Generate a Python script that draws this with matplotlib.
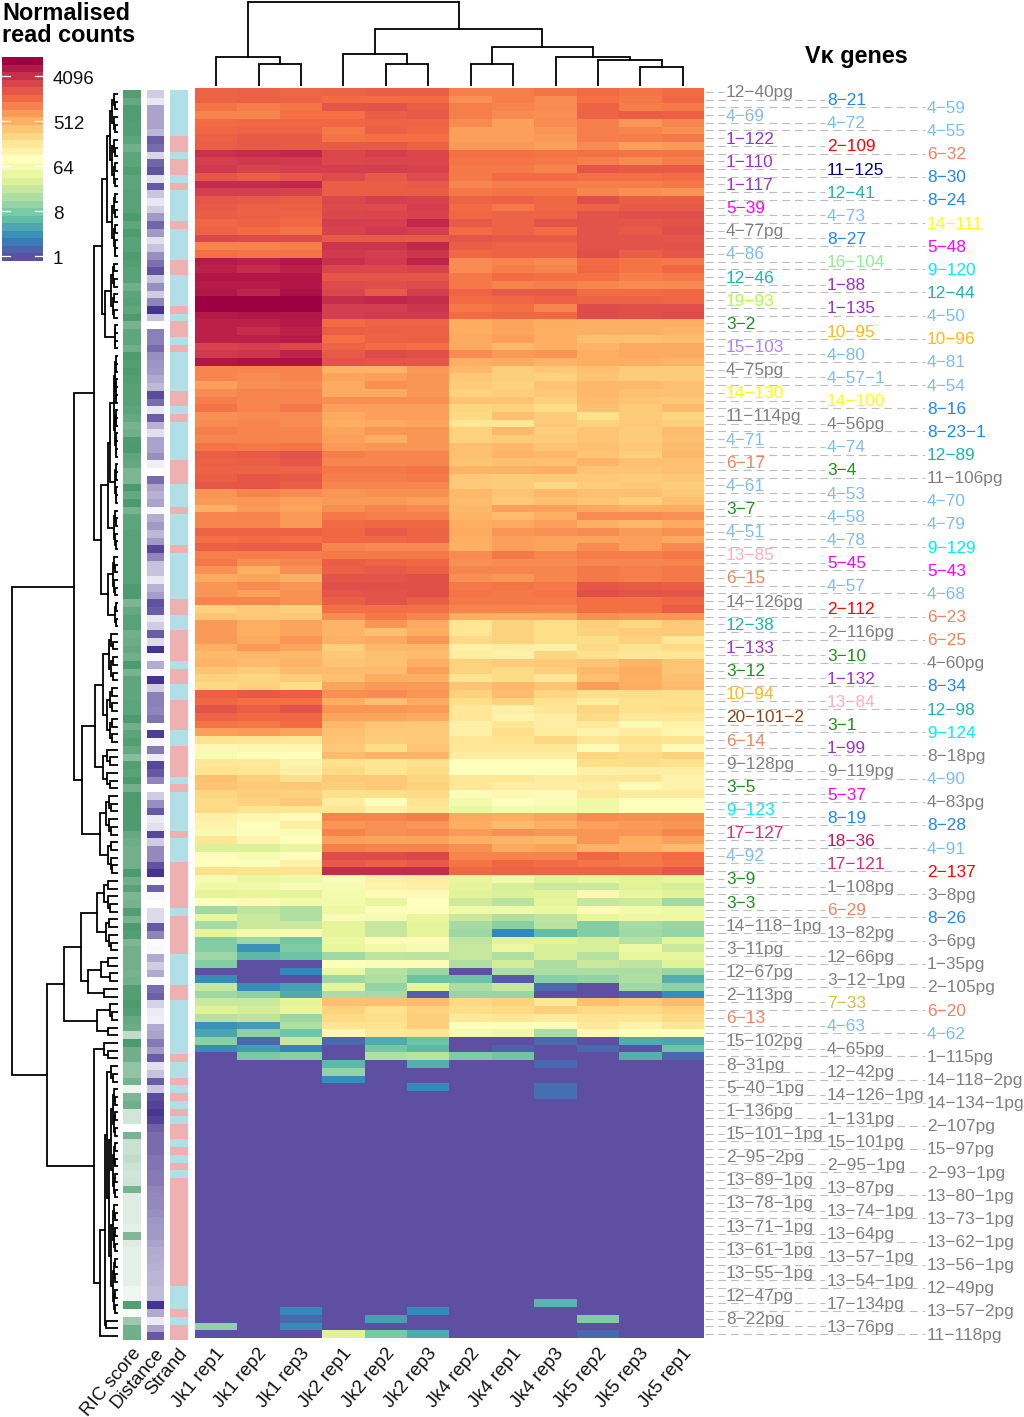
import numpy as np
import matplotlib
matplotlib.use('Agg')
from matplotlib import pyplot as plt
from matplotlib.colors import LinearSegmentedColormap, ListedColormap

plt.rcParams['font.family'] = ['Liberation Sans', 'DejaVu Sans']

W, H = 1024, 1417

samples = ['Jk1 rep1', 'Jk1 rep2', 'Jk1 rep3', 'Jk2 rep1', 'Jk2 rep2', 'Jk2 rep3',
           'Jk4 rep2', 'Jk4 rep1', 'Jk4 rep3', 'Jk5 rep2', 'Jk5 rep3', 'Jk5 rep1']
annot_names = ['RIC score', 'Distance', 'Strand']

# log2 read counts
cluster_a = [
    [10.8, 10.9, 10.7, 10.8, 11.0, 11.0, 10.2, 10.2, 10.4, 10.6, 10.4, 10.6],
    [10.8, 10.9, 10.8, 10.6, 10.6, 10.6, 9.8, 10.2, 9.9, 10.5, 10.3, 10.7],
    [10.4, 10.2, 10.4, 11.2, 11.3, 11.0, 10.2, 10.1, 9.9, 10.8, 10.2, 10.3],
    [10.1, 10.0, 10.5, 10.5, 11.0, 11.1, 10.2, 9.9, 9.8, 10.8, 11.0, 10.9],
    [10.6, 10.7, 10.7, 10.7, 10.8, 10.8, 9.9, 9.5, 9.9, 10.2, 9.7, 10.0],
    [10.7, 10.8, 10.8, 10.3, 10.9, 10.7, 9.5, 9.5, 9.7, 10.2, 10.0, 9.8],
    [10.9, 11.1, 11.1, 10.4, 10.5, 10.5, 9.5, 9.5, 9.6, 10.2, 10.2, 10.3],
    [11.0, 11.1, 11.1, 11.1, 11.1, 10.9, 9.6, 9.6, 9.5, 9.9, 9.5, 9.6],
    [12.2, 12.3, 12.4, 11.6, 11.9, 11.7, 10.5, 10.5, 10.4, 10.5, 10.4, 10.4],
    [11.9, 12.0, 12.0, 11.6, 11.7, 11.7, 10.4, 10.4, 10.3, 10.2, 9.9, 10.2],
    [12.0, 11.8, 11.9, 11.9, 11.9, 11.8, 10.3, 10.3, 10.1, 11.2, 11.1, 11.1],
    [11.2, 11.0, 11.2, 11.5, 11.1, 11.5, 10.3, 10.6, 10.6, 10.5, 10.5, 10.6],
    [12.3, 12.3, 12.4, 11.0, 11.0, 11.1, 10.0, 10.2, 10.2, 10.2, 10.2, 10.3],
    [11.9, 11.9, 11.8, 11.0, 11.0, 11.0, 10.3, 10.4, 10.4, 10.0, 9.8, 9.7],
    [11.2, 11.1, 11.0, 11.6, 11.9, 11.8, 10.8, 10.9, 10.7, 11.4, 11.0, 11.0],
    [11.1, 10.9, 10.9, 11.5, 11.5, 11.9, 10.6, 10.3, 10.7, 10.8, 11.1, 11.1],
    [11.0, 10.9, 10.8, 11.6, 11.7, 11.8, 10.7, 10.8, 10.8, 11.3, 11.4, 11.4],
    [10.7, 10.8, 10.7, 11.9, 11.9, 12.4, 11.1, 10.8, 11.3, 11.3, 11.2, 11.3],
    [10.8, 10.6, 10.4, 11.8, 12.0, 11.9, 10.6, 10.8, 10.6, 11.3, 11.1, 11.4],
    [11.6, 11.5, 11.5, 11.1, 11.1, 11.1, 11.2, 11.1, 11.1, 11.3, 11.3, 11.2],
    [10.1, 10.1, 10.2, 12.1, 12.1, 12.4, 11.0, 10.8, 10.8, 11.3, 11.3, 11.3],
    [10.5, 10.4, 10.4, 12.0, 11.9, 12.1, 10.7, 10.8, 10.8, 11.4, 11.0, 11.2],
    [12.7, 12.6, 12.8, 12.2, 12.0, 12.5, 9.9, 10.1, 9.9, 10.6, 10.4, 10.3],
    [12.6, 12.3, 12.6, 11.7, 11.6, 11.8, 9.9, 10.2, 10.1, 10.7, 10.4, 10.7],
    [12.8, 12.8, 12.8, 11.2, 11.2, 11.2, 10.3, 10.6, 10.5, 10.5, 10.2, 10.3],
    [12.7, 12.7, 12.8, 11.5, 11.4, 11.5, 10.3, 10.1, 10.2, 10.0, 9.9, 9.9],
    [12.8, 12.5, 12.9, 11.6, 11.1, 11.9, 10.8, 11.1, 11.1, 10.6, 10.6, 10.7],
    [13.3, 13.3, 13.3, 12.3, 12.4, 12.3, 10.6, 10.7, 10.9, 10.8, 10.8, 10.7],
    [13.3, 13.3, 13.3, 11.9, 11.9, 12.1, 10.3, 10.5, 10.0, 11.5, 11.4, 11.4],
    [12.7, 12.8, 12.8, 11.9, 12.0, 12.0, 10.6, 10.7, 10.7, 11.5, 11.4, 11.5],
    [12.6, 12.6, 12.7, 10.6, 10.8, 10.8, 9.2, 9.4, 9.2, 9.1, 9.1, 9.1],
    [12.6, 12.3, 12.6, 11.0, 10.9, 10.9, 9.2, 9.4, 9.2, 9.1, 9.1, 9.0],
    [12.6, 12.6, 12.7, 10.5, 10.8, 10.9, 9.3, 9.5, 9.2, 8.7, 8.7, 8.8],
    [11.8, 11.9, 11.7, 10.8, 10.6, 10.5, 9.3, 8.9, 9.2, 9.0, 9.3, 9.3],
    [12.0, 12.1, 12.5, 11.1, 11.5, 11.4, 9.9, 9.6, 9.7, 9.2, 9.3, 9.3],
    [12.8, 12.9, 12.9, 11.3, 11.2, 11.2, 9.1, 9.3, 9.0, 9.2, 9.2, 9.0],
]
cluster_b = [
    [10.0, 10.0, 10.1, 9.0, 9.0, 9.6, 8.9, 8.3, 8.5, 8.7, 8.4, 8.4],
    [10.0, 9.9, 10.1, 9.4, 9.5, 9.7, 8.5, 8.3, 8.2, 8.6, 8.4, 8.4],
    [9.5, 9.8, 9.9, 9.3, 9.8, 9.7, 8.4, 8.2, 8.6, 8.9, 8.9, 8.7],
    [9.9, 10.1, 10.1, 9.3, 9.3, 9.7, 8.2, 8.3, 8.5, 8.9, 8.7, 8.7],
    [10.2, 10.0, 10.0, 9.8, 9.8, 9.8, 8.6, 8.6, 8.2, 8.8, 8.6, 8.5],
    [10.4, 10.1, 10.3, 9.5, 9.5, 9.5, 8.1, 8.2, 7.9, 8.7, 8.4, 8.8],
    [9.8, 9.9, 9.9, 9.3, 9.5, 9.5, 8.0, 8.7, 8.4, 7.8, 8.4, 8.1],
    [9.9, 10.0, 9.9, 9.2, 9.3, 9.4, 7.6, 7.5, 8.5, 8.2, 8.5, 8.3],
    [10.2, 10.1, 10.0, 9.4, 9.7, 9.7, 8.2, 8.9, 8.3, 8.6, 8.4, 8.8],
    [10.0, 10.1, 10.0, 9.5, 9.2, 9.7, 8.2, 8.4, 8.4, 8.6, 8.4, 8.7],
    [10.4, 10.3, 10.4, 9.6, 9.7, 9.7, 8.7, 8.9, 8.6, 8.7, 8.5, 8.8],
    [11.0, 11.1, 11.3, 10.2, 10.0, 10.0, 8.7, 9.0, 8.9, 8.6, 8.3, 8.9],
    [10.9, 11.0, 11.2, 10.0, 10.0, 10.0, 8.6, 8.7, 8.7, 9.0, 8.7, 8.7],
    [10.8, 10.8, 10.8, 10.3, 10.3, 10.4, 9.0, 9.0, 9.1, 8.6, 8.6, 8.7],
    [11.0, 11.2, 11.1, 10.2, 10.2, 10.3, 8.5, 8.4, 8.5, 8.5, 8.4, 8.5],
    [11.2, 11.2, 11.0, 10.0, 10.0, 10.0, 8.5, 8.4, 8.0, 8.4, 8.5, 8.3],
    [9.7, 10.1, 9.9, 9.7, 9.8, 9.8, 8.9, 8.6, 8.9, 8.7, 8.7, 8.5],
    [9.6, 9.7, 9.5, 9.6, 9.6, 9.5, 8.8, 8.5, 8.7, 8.6, 8.3, 8.7],
    [9.1, 9.6, 9.4, 9.8, 10.0, 9.9, 8.9, 9.5, 9.5, 9.3, 9.1, 9.2],
    [10.0, 10.1, 9.6, 10.3, 10.2, 10.2, 9.0, 8.8, 9.2, 9.9, 9.9, 9.8],
    [10.0, 10.0, 9.6, 10.6, 10.7, 10.7, 9.2, 9.3, 9.5, 9.1, 8.9, 9.3],
    [10.8, 10.8, 10.9, 10.7, 11.1, 10.8, 9.3, 9.7, 9.8, 9.9, 9.6, 9.8],
    [10.5, 10.6, 10.5, 10.7, 10.7, 10.8, 9.2, 9.5, 9.4, 9.4, 9.5, 9.3],
    [10.9, 11.0, 11.0, 10.0, 9.9, 9.9, 9.1, 9.5, 9.4, 9.9, 9.5, 9.9],
    [10.2, 10.2, 10.2, 10.3, 10.3, 10.3, 9.9, 10.3, 10.0, 10.2, 10.2, 10.3],
    [10.3, 9.8, 10.0, 11.0, 10.8, 10.7, 9.8, 9.9, 9.9, 10.0, 10.0, 10.1],
    [9.8, 9.2, 9.8, 10.9, 11.1, 10.9, 10.0, 10.0, 10.0, 10.3, 10.2, 10.3],
    [9.3, 9.4, 9.1, 11.3, 11.3, 11.4, 9.8, 9.7, 10.0, 10.3, 10.2, 10.3],
    [9.7, 9.9, 9.7, 11.4, 11.4, 11.4, 10.3, 10.4, 10.3, 11.2, 11.1, 11.0],
    [9.7, 9.5, 9.8, 11.2, 11.3, 11.4, 10.4, 10.3, 10.4, 11.4, 11.3, 11.2],
    [10.0, 10.0, 9.8, 11.0, 11.3, 11.0, 10.3, 10.3, 10.3, 10.5, 10.5, 10.7],
    [8.2, 8.5, 8.3, 10.5, 10.5, 10.5, 10.1, 10.1, 10.0, 10.5, 10.5, 11.0],
    [8.6, 8.5, 8.5, 9.9, 10.3, 10.0, 9.2, 9.1, 9.2, 9.8, 9.7, 9.7],
    [9.6, 9.2, 9.4, 9.0, 9.7, 9.3, 7.6, 8.2, 7.9, 8.3, 8.1, 8.5],
    [9.6, 9.2, 9.4, 9.0, 8.7, 9.2, 7.6, 8.2, 7.9, 8.2, 8.4, 8.5],
    [9.6, 9.3, 9.7, 9.1, 9.3, 9.7, 8.0, 8.2, 7.9, 7.9, 8.2, 7.5],
    [9.1, 9.6, 9.4, 8.3, 8.9, 8.9, 7.1, 7.2, 7.1, 8.0, 7.7, 8.0],
    [8.9, 8.9, 8.9, 8.5, 8.7, 8.8, 7.3, 7.1, 8.1, 7.8, 7.5, 7.6],
    [9.0, 8.8, 9.0, 8.6, 8.7, 9.2, 8.2, 8.4, 8.5, 8.6, 9.0, 8.6],
    [8.6, 8.4, 8.8, 8.8, 8.8, 9.5, 8.2, 8.0, 8.3, 8.9, 9.2, 8.6],
    [8.2, 8.1, 8.4, 8.7, 9.2, 9.1, 7.7, 8.0, 7.5, 8.7, 9.1, 8.7],
    [8.0, 8.2, 7.9, 9.4, 9.6, 9.6, 8.6, 8.9, 8.6, 9.5, 9.2, 8.8],
]
cluster_c = [
    [10.9, 11.1, 11.0, 9.8, 9.9, 9.7, 8.2, 8.8, 8.1, 7.8, 7.9, 7.8],
    [10.7, 10.5, 10.5, 9.2, 8.7, 9.3, 7.9, 8.2, 7.7, 7.3, 7.8, 7.8],
    [11.3, 11.0, 11.3, 9.7, 9.7, 9.6, 7.5, 7.1, 7.6, 8.1, 7.8, 7.9],
    [10.8, 10.7, 10.7, 9.4, 9.4, 9.3, 7.6, 7.0, 7.2, 8.0, 7.5, 7.5],
    [10.4, 10.3, 10.6, 8.9, 8.6, 8.5, 7.1, 7.6, 7.2, 7.4, 6.6, 7.0],
    [9.5, 9.6, 9.4, 8.7, 8.5, 8.5, 7.1, 7.9, 7.3, 7.0, 7.3, 6.9],
    [7.7, 7.6, 7.5, 8.6, 8.4, 8.5, 7.6, 7.7, 8.1, 7.6, 7.8, 7.7],
    [6.8, 6.9, 6.9, 8.5, 7.9, 8.6, 7.5, 7.5, 7.5, 6.6, 7.5, 6.6],
    [6.0, 6.4, 6.5, 8.8, 9.0, 9.0, 7.3, 7.3, 7.3, 8.1, 8.0, 8.2],
    [7.5, 7.4, 7.0, 7.8, 7.6, 7.8, 6.5, 6.5, 6.5, 7.9, 7.9, 7.8],
    [7.7, 7.6, 7.1, 8.0, 7.6, 8.0, 6.5, 6.5, 6.5, 7.1, 7.2, 7.2],
    [8.7, 8.3, 7.8, 8.5, 8.5, 8.1, 7.5, 7.6, 7.3, 7.5, 7.6, 7.0],
    [8.6, 8.4, 8.5, 8.3, 8.5, 8.2, 7.5, 7.2, 7.2, 7.2, 6.6, 7.0],
    [8.1, 8.3, 8.2, 7.8, 7.9, 8.0, 6.6, 6.8, 6.6, 7.4, 7.3, 7.3],
    [8.0, 8.2, 8.5, 7.3, 6.5, 7.7, 5.8, 6.4, 6.2, 5.6, 6.4, 6.4],
    [8.0, 7.7, 7.6, 7.6, 7.1, 7.5, 5.5, 5.9, 5.8, 5.6, 6.4, 6.4],
    [7.1, 6.9, 6.6, 10.1, 10.0, 10.2, 9.3, 9.2, 9.4, 9.9, 9.8, 9.8],
    [7.0, 6.4, 7.2, 9.7, 9.8, 9.7, 9.2, 8.8, 9.1, 9.5, 9.6, 9.7],
    [6.0, 6.3, 6.2, 10.1, 9.8, 9.9, 9.6, 9.8, 9.7, 9.7, 9.7, 10.0],
    [7.6, 6.9, 6.5, 9.5, 9.4, 9.4, 9.1, 9.0, 8.9, 9.7, 9.2, 9.5],
    [4.9, 4.9, 5.4, 10.2, 10.1, 10.1, 9.8, 9.3, 9.4, 9.0, 9.1, 8.8],
    [6.4, 6.0, 6.5, 11.5, 11.5, 11.7, 10.0, 10.1, 10.1, 10.7, 10.3, 10.6],
    [6.5, 6.4, 7.1, 11.1, 10.9, 11.1, 10.4, 10.7, 10.6, 10.4, 10.3, 10.5],
    [7.8, 7.7, 7.7, 12.3, 12.3, 12.3, 10.7, 10.8, 10.8, 10.8, 10.8, 11.2],
]
cluster_d = [
    [6.0, 5.5, 5.7, 6.2, 7.1, 7.3, 5.4, 5.8, 5.0, 5.3, 5.1, 5.3],
    [5.7, 5.7, 6.2, 6.0, 7.0, 7.2, 5.2, 4.8, 4.5, 4.5, 5.0, 4.8],
    [5.2, 5.3, 5.2, 5.9, 6.7, 6.6, 5.1, 4.9, 5.1, 6.8, 5.4, 5.0],
    [6.5, 6.7, 5.7, 5.8, 5.4, 6.5, 4.6, 4.1, 5.2, 4.4, 4.6, 3.6],
    [3.6, 4.2, 3.9, 5.6, 6.3, 6.4, 5.7, 5.7, 5.5, 6.7, 5.8, 5.6],
    [5.3, 4.5, 3.9, 6.2, 6.0, 5.3, 4.5, 3.9, 4.2, 5.3, 5.6, 5.6],
    [3.7, 4.5, 4.5, 5.2, 4.4, 5.2, 3.7, 3.1, 4.1, 3.0, 3.7, 3.4],
    [5.2, 5.8, 6.0, 5.2, 4.4, 5.2, 3.5, 1.1, 2.3, 3.0, 3.6, 3.3],
    [3.0, 3.5, 2.7, 5.5, 6.6, 6.6, 4.3, 5.0, 5.0, 4.8, 4.0, 5.1],
    [3.0, 1.3, 2.9, 5.3, 5.7, 6.0, 4.4, 5.5, 4.8, 4.8, 5.6, 4.5],
    [3.5, 2.2, 2.5, 3.6, 4.2, 4.1, 4.4, 3.9, 4.8, 4.0, 5.3, 5.3],
    [3.0, 0, 0, 6.4, 6.2, 6.6, 3.9, 4.7, 3.8, 4.5, 4.2, 5.0],
    [0, 0, 1.1, 5.5, 4.0, 3.5, 0, 3.8, 3.8, 3.8, 3.8, 3.4],
    [1.2, 0, 0, 3.5, 3.9, 2.5, 2.5, 0.4, 3.1, 3.3, 3.9, 2.0],
    [4.4, 1.2, 1.6, 5.2, 3.3, 5.2, 3.8, 4.4, 0.6, 0, 3.6, 3.2],
    [3.6, 3.2, 1.9, 3.8, 3.7, 0.5, 3.4, 3.4, 0, 0, 0.5, 1.2],
    [4.5, 4.5, 5.2, 8.7, 8.7, 8.8, 8.0, 8.2, 7.5, 8.7, 8.4, 8.8],
    [5.0, 4.7, 5.3, 8.2, 7.8, 8.2, 7.9, 8.0, 8.3, 8.0, 8.0, 8.2],
    [4.0, 4.3, 3.5, 8.0, 7.9, 8.3, 7.4, 7.6, 7.3, 7.7, 7.6, 8.0],
    [1.3, 1.5, 3.9, 7.7, 7.7, 8.3, 6.4, 6.4, 6.4, 7.4, 7.0, 7.6],
    [1.7, 3.2, 2.6, 6.8, 7.4, 7.6, 5.9, 5.7, 3.8, 6.8, 6.3, 6.5],
    [3.1, 0.6, 4.4, 0.6, 1.9, 2.5, 0, 0, 0.6, 0, 1.9, 1.7],
    [1.2, 1.5, 1.0, 0, 2.7, 2.2, 0, 0.5, 0, 0.6, 0, 2.5],
    [0, 2.8, 3.1, 0, 3.9, 4.1, 2.9, 2.6, 0, 0, 2.0, 0.6],
]
zero_row = [0] * 12
cluster_e = [
    [0, 0, 0, 2.2, 0, 2.0, 0, 0, 0.6, 0, 0, 0],
    [0, 0, 0, 3.3, 0, 0, 0, 0, 0, 0, 0, 0],
    [0, 0, 0, 1.2, 0, 0, 0, 0, 0, 0, 0, 0],
    [0, 0, 0, 0, 0, 1.1, 0, 0, 0.7, 0, 0, 0],
    [0, 0, 0, 0, 0, 0, 0, 0, 0.7, 0, 0, 0],
] + [zero_row] * 26 + [
    [0, 0, 0, 0, 0, 0, 0, 0, 2.1, 0, 0, 0],
    [0, 0, 1.1, 0, 0, 1.1, 0, 0, 0, 0, 0, 0],
    [0, 0, 0.6, 0, 1.6, 0, 0, 0, 0, 2.9, 0, 0],
    [3.2, 0, 1.2, 0, 0, 0, 0, 0, 0, 0, 0, 0],
    [0, 0, 0, 5.0, 2.8, 1.9, 0, 0, 0, 0.6, 0, 0],
]

ric_score = [.95, .85, .97, .97, .95, .95, .9, .8, .9, .9, .95, .9, .9, .92, .92, .92, 1, .88, .98, .92,
             .92, .98, .95, .92, .92, .8, .9, .92, .88, .98, .75, .88, .88, .8, .98, .95, .98, .95, .93, .93,
             .93, .9, .85, .75, .8, .98, 1, .88, .85, .72, .72, 1, .85, 1, .75, .9, .9, .92, .92, .92,
             .92, .92, .92, .92, .98, .98, .72, .85, .92, .92, .8, .82, .85, .78, 1, .75, .88, .88, .88, .9,
             .9, 1, .78, .9, .95, .85, .65, .95, .92, 1, .78, 1, 1, .98, .98, .98, .85, .82, .78, .78,
             .78, 1, .8, .92, .72, .75, .95, .75, 1, .95, .72, .78, .78, .78, .75, .78, .95, .95, 1, .95,
             .85, .82, .35, 1, .78, .8, .6, .6, .75, .1, .72, .8, .25, .25, 0, .75, .3, .3, .35, .28,
             .25, .28, .75, .18, .18, .18, .18, .15, .7, .18, .15, .15, .15, .15, .15, .08, .08, .95, .05, .55,
             .8, .8]
distance = [.25, .12, .45, .45, .45, .35, .8, .72, .2, .75, .85, .15, .82, .28, .12, .25, .5, .75, .5, .15,
            .3, .55, .7, .85, .3, .55, .25, .6, 1, .3, 0, .62, .62, .72, .55, .52, .5, .42, .35, .88,
            .72, .12, .8, .38, .15, .45, .45, .55, .08, 0, .72, .45, .38, .45, .04, .4, .5, .35, .5, .9,
            .6, .3, .3, .12, .38, .48, .85, .8, .12, .25, .8, .18, 1, .04, .4, .05, 1, .25, .62, .62,
            .6, .68, 0, .95, .05, .65, .1, .9, .82, .6, 0, .25, .55, .82, .1, .15, .9, .25, .58, .58,
            .85, 1, .03, .78, .03, 0, .18, .18, .82, .6, .02, .03, .42, .25, .42, .03, .72, .78, .22, .1,
            .08, .42, .45, .65, .5, .8, .15, .3, .8, .28, .88, .92, .98, .92, .78, .72, .72, .72, .68, .68,
            .65, .65, .6, .58, .58, .55, .52, .5, .5, .45, .42, .4, .38, .36, .36, .33, .33, 1, .42, .1,
            .45, .82]
# 0 teal, 1 pink, as run lengths from the top
strand_runs = [6, 2, 1, 2, 1, 1, 4, 1, 4, 2, 4, 1, 1, 2, 1, 1, 5, 2, 1, 1, 5, 3, 3, 1, 4, 1, 6, 2, 2, 4,
               1, 2, 2, 4, 2, 4, 1, 1, 5, 1, 3, 6, 1, 5, 4, 2, 7, 1, 2, 1, 1, 1, 1, 1, 1, 2, 1, 1, 1, 1,
               1, 14, 3, 1, 1, 2]

col1_genes = ['12−40pg', '4−69', '1−122', '1−110', '1−117', '5−39', '4−77pg', '4−86', '12−46', '19−93',
              '3−2', '15−103', '4−75pg', '14−130', '11−114pg', '4−71', '6−17', '4−61', '3−7', '4−51',
              '13−85', '6−15', '14−126pg', '12−38', '1−133', '3−12', '10−94', '20−101−2', '6−14', '9−128pg',
              '3−5', '9−123', '17−127', '4−92', '3−9', '3−3', '14−118−1pg', '3−11pg', '12−67pg', '2−113pg',
              '6−13', '15−102pg', '8−31pg', '5−40−1pg', '1−136pg', '15−101−1pg', '2−95−2pg', '13−89−1pg',
              '13−78−1pg', '13−71−1pg', '13−61−1pg', '13−55−1pg', '12−47pg', '8−22pg']
col2_genes = ['8−21', '4−72', '2−109', '11−125', '12−41', '4−73', '8−27', '16−104', '1−88', '1−135',
              '10−95', '4−80', '4−57−1', '14−100', '4−56pg', '4−74', '3−4', '4−53', '4−58', '4−78',
              '5−45', '4−57', '2−112', '2−116pg', '3−10', '1−132', '13−84', '3−1', '1−99', '9−119pg',
              '5−37', '8−19', '18−36', '17−121', '1−108pg', '6−29', '13−82pg', '12−66pg', '3−12−1pg', '7−33',
              '4−63', '4−65pg', '12−42pg', '14−126−1pg', '1−131pg', '15−101pg', '2−95−1pg', '13−87pg',
              '13−74−1pg', '13−64pg', '13−57−1pg', '13−54−1pg', '17−134pg', '13−76pg']
col3_genes = ['4−59', '4−55', '6−32', '8−30', '8−24', '14−111', '5−48', '9−120', '12−44', '4−50',
              '10−96', '4−81', '4−54', '8−16', '8−23−1', '12−89', '11−106pg', '4−70', '4−79', '9−129',
              '5−43', '4−68', '6−23', '6−25', '4−60pg', '8−34', '12−98', '9−124', '8−18pg', '4−90',
              '4−83pg', '8−28', '4−91', '2−137', '3−8pg', '8−26', '3−6pg', '1−35pg', '2−105pg', '6−20',
              '4−62', '1−115pg', '14−118−2pg', '14−134−1pg', '2−107pg', '15−97pg', '2−93−1pg', '13−80−1pg',
              '13−73−1pg', '13−62−1pg', '13−56−1pg', '12−49pg', '13−57−2pg', '11−118pg']

family_colors = {'1': '#9932CC', '2': '#FF0000', '3': '#228B22', '4': '#7EBCEE', '5': '#FF00FF',
                 '6': '#EE8262', '7': '#D8BC4A', '8': '#1E86F5', '9': '#00EEEE', '10': '#FFB90F',
                 '11': '#000080', '12': '#20B2AA', '13': '#FFAEC0', '14': '#FFFF00', '15': '#AB82FF',
                 '16': '#90EE90', '17': '#CD3278', '18': '#C71560', '19': '#ADFF2F', '20': '#8B4513'}

# dendrograms: [height, child, child], (n, height) a tight group of n rows, 1 a single leaf
row_tree = [106,
            [44,
             [24,
              [16.5, [11, (13, 8), (9, 6)], [13, (8, 7), (4, 3.5)]],
              [17, [10, [8, (14, 4), (6, 3)], (6, 4)], [10, (6, 5), (4, 3)]]],
             [36,
              [23, [15, (7, 9), (8, 11)], (6, 15)],
              [18, (6, 12), (5, 10)]]],
            [71,
             [54,
              [37, [21, (5, 14), (5, 12)], [30, [17, (2, 10), (2, 8)], (2, 14)]],
              [21, (3, 8), (2, 10)]],
             [24, (3, 14),
              [18, [13, [11, (3, 7), (30, 9)], (2, 12)], 1]]]]
col_tree = [84,
            [29, 1, [22, 1, 1]],
            [57,
             [32, 1, [22, 1, 1]],
             [39, [22, 1, 1], [29, 1, [26, 1, [19, 1, 1]]]]]]

spectral = ['#5E4FA2', '#3288BD', '#66C2A5', '#ABDDA4', '#E6F598', '#FFFFBF',
            '#FEE08B', '#FDAE61', '#F46D43', '#D53E4F', '#9E0142']
key_cmap = LinearSegmentedColormap.from_list('key', spectral, N=27)
# same ramp, but the zero counts stay on the purple end
heat_stops = [(0, spectral[0]), (0.04, spectral[0])] + [(i / 10, c) for i, c in enumerate(spectral) if i > 0]
heat_cmap = LinearSegmentedColormap.from_list('heat', heat_stops, N=256)
ric_cmap = LinearSegmentedColormap.from_list('ric', ['#FFFFFF', '#4B9B6C'])
dist_cmap = LinearSegmentedColormap.from_list('dist', ['#FFFFFF', '#45348F'])
strand_cmap = ListedColormap(['#B0E0E6', '#EEB0B0'])
VMIN, VMAX = -0.33, 13.3


def px_axes(fig, left, top, right, bottom):
    return fig.add_axes([left / W, 1 - bottom / H, (right - left) / W, (bottom - top) / H])


def expand(node):
    if isinstance(node, tuple):
        n, h = node
        if n == 1:
            return 1
        return [h, expand((n // 2, h * 0.75)), expand((n - n // 2, h * 0.75))]
    if isinstance(node, list):
        return [node[0], expand(node[1]), expand(node[2])]
    return node


def draw_tree(ax, node, start, vertical):
    # returns position along the leaves, height, next free leaf
    if node == 1:
        return start + 0.5, 0, start + 1
    p1, h1, nxt = draw_tree(ax, node[1], start, vertical)
    p2, h2, nxt = draw_tree(ax, node[2], nxt, vertical)
    h = node[0]
    pos = [p1, p1, p2, p2]
    hts = [h1, h, h, h2]
    if vertical:
        ax.plot(pos, hts, color='black', lw=1.3, solid_joinstyle='miter')
    else:
        ax.plot(hts, pos, color='black', lw=1.3, solid_joinstyle='miter')
    return (p1 + p2) / 2, h, nxt


heat = np.vstack([cluster_a, cluster_b, cluster_c, cluster_d, cluster_e])
n_rows, n_cols = heat.shape
strand = np.repeat([i % 2 for i in range(len(strand_runs))], strand_runs)

fig = plt.figure(figsize=(W / 100, H / 100), dpi=100, facecolor='white')

over = fig.add_axes([0, 0, 1, 1])
over.set_xlim(0, W)
over.set_ylim(H, 0)
over.axis('off')

HEAT_L, HEAT_T, HEAT_R, HEAT_B = 195, 88, 704, 1338
row_h = (HEAT_B - HEAT_T) / n_rows
col_w = (HEAT_R - HEAT_L) / n_cols

# gene labels and their dashed leaders
for offset, (genes, label_x) in enumerate(zip([col1_genes, col2_genes, col3_genes], [726, 827, 927])):
    for i, gene in enumerate(genes):
        row = i * 3 + offset
        y = HEAT_T + (row + 0.5) * row_h
        over.plot([HEAT_R + 1, label_x - 2], [y, y], color='#BDBDBD', lw=0.8, dashes=(7, 4.5))
        color = '#7F7F7F' if gene.endswith('pg') else family_colors[gene.split('−')[0]]
        over.text(label_x, y + 1, gene, color=color, fontsize=12.4, ha='left', va='center')

ax = px_axes(fig, HEAT_L, HEAT_T, HEAT_R, HEAT_B)
ax.imshow(heat, cmap=heat_cmap, vmin=VMIN, vmax=VMAX, aspect='auto', interpolation='nearest')
ax.axis('off')

annot_boxes = [(123, 141), (147, 164), (170, 188)]
annot_data = [(ric_score, ric_cmap), (distance, dist_cmap), (strand, strand_cmap)]
for (left, right), (values, cmap) in zip(annot_boxes, annot_data):
    a = px_axes(fig, left, 90, right, 1340)
    a.imshow(np.array(values, dtype=float).reshape(-1, 1), cmap=cmap, vmin=0, vmax=1,
             aspect='auto', interpolation='nearest')
    a.axis('off')

tree_ax = px_axes(fig, 0, 90, 118, 1340)
tree_ax.set_xlim(118, 0)
tree_ax.set_ylim(n_rows, 0)
tree_ax.axis('off')
draw_tree(tree_ax, expand(row_tree), 0, False)

top_ax = px_axes(fig, HEAT_L, 0, HEAT_R, 86)
top_ax.set_xlim(0, n_cols)
top_ax.set_ylim(0, 86)
top_ax.axis('off')
draw_tree(top_ax, col_tree, 0, True)

# colour key
bar = px_axes(fig, 2, 57, 43, 261)
levels = np.linspace(VMAX, VMIN, 27).reshape(-1, 1)
bar.imshow(levels, cmap=key_cmap, vmin=VMIN, vmax=VMAX, aspect='auto', interpolation='nearest',
           extent=[0, 1, VMIN, VMAX])
bar.set_xlim(0, 1)
bar.set_ylim(VMIN, VMAX)
bar.axis('off')
for label, value in zip(['4096', '512', '64', '8', '1'], [12, 9, 6, 3, 0]):
    bar.plot([0, 0.2], [value, value], color='white', lw=0.9)
    bar.plot([0.8, 1], [value, value], color='white', lw=0.9)
    y = 57 + (VMAX - value) / (VMAX - VMIN) * 204
    over.text(53, y + 3, label, fontsize=13.5, ha='left', va='center', color='#111111')

over.text(2, 14, 'Normalised', fontsize=16.9, fontweight='bold', ha='left', va='center')
over.text(2, 36, 'read counts', fontsize=16.9, fontweight='bold', ha='left', va='center')
over.text(856, 57, 'Vκ genes', fontsize=16.8, fontweight='bold', ha='center', va='center')

# rotated column names
for (left, right), name in zip(annot_boxes, annot_names):
    over.text((left + right) / 2 - 1, 1345, name, rotation=50, rotation_mode='anchor',
              ha='right', va='top', fontsize=13.5, color='#111111')
for i, name in enumerate(samples):
    over.text(HEAT_L + (i + 0.5) * col_w - 1, 1345, name, rotation=50, rotation_mode='anchor',
              ha='right', va='top', fontsize=13.5, color='#111111')

fig.savefig('out.png', dpi=100, facecolor='white')
